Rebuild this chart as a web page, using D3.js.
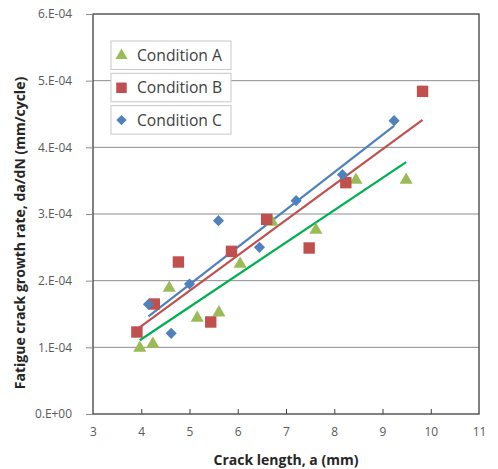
<!DOCTYPE html>
<html>
<head>
<meta charset="utf-8">
<script src="https://cdn.jsdelivr.net/npm/d3@7"></script>
<style>
  body { margin: 0; background: #fff; }
  text { font-family: "Open Sans", Lato, sans-serif; }
</style>
</head>
<body>
<div id="container"></div>
<script>
/* CONSTANTS AND GLOBALS */
const width = 498,
      height = 469,
      margin = {top: 14, bottom: 55, left: 93, right: 19};

/* DATA */
const seriesNames = ["Condition A", "Condition B", "Condition C"]

const lengthA = [3.97, 4.24, 4.58, 5.16, 5.61, 6.05, 6.71, 7.62, 8.45, 9.49]
const rateA   = [0.99e-4, 1.05e-4, 1.89e-4, 1.44e-4, 1.52e-4, 2.25e-4, 2.88e-4, 2.76e-4, 3.51e-4, 3.51e-4]

const lengthB = [3.91, 4.27, 4.77, 5.44, 5.87, 6.60, 7.48, 8.24, 9.83]
const rateB   = [1.23e-4, 1.65e-4, 2.28e-4, 1.38e-4, 2.44e-4, 2.92e-4, 2.49e-4, 3.47e-4, 4.84e-4]

const lengthC = [4.15, 4.62, 5.00, 5.60, 6.45, 7.21, 8.17, 9.24]
const rateC   = [1.645e-4, 1.21e-4, 1.95e-4, 2.90e-4, 2.50e-4, 3.20e-4, 3.59e-4, 4.40e-4]

const xTicks = [3, 4, 5, 6, 7, 8, 9, 10, 11]
const yTicks = [0, 1e-4, 2e-4, 3e-4, 4e-4, 5e-4, 6e-4]

// diamond = square turned 45 degrees
const series = [
  {name: seriesNames[0], x: lengthA, y: rateA, symbol: d3.symbolTriangle, size: 75, rot: 0, fill: "#9bbb59", line: "#00b050"},
  {name: seriesNames[1], x: lengthB, y: rateB, symbol: d3.symbolSquare, size: 130, rot: 0, fill: "#c0504d", line: "#c0504d"},
  {name: seriesNames[2], x: lengthC, y: rateC, symbol: d3.symbolSquare, size: 62, rot: 45, fill: "#4f81bd", line: "#4f81bd"}
]

// least squares line, like the spreadsheet trendline
function trend(xs, ys) {
  const mx = d3.mean(xs), my = d3.mean(ys)
  const sxy = d3.sum(xs, (x, i) => (x - mx) * (ys[i] - my))
  const sxx = d3.sum(xs, x => (x - mx) * (x - mx))
  const b = sxy / sxx, a = my - b * mx
  const x0 = d3.min(xs), x1 = d3.max(xs)
  return [[x0, a + b * x0], [x1, a + b * x1]]
}

function sciFormat(d) {
  if (d === 0) return "0.E+00"
  const e = Math.floor(Math.log10(d) + 1e-9)
  const m = Math.round(d / Math.pow(10, e))
  const sign = e < 0 ? "-" : "+"
  return `${m}.E${sign}${String(Math.abs(e)).padStart(2, "0")}`
}

// pick a font size so that one text node gets the wanted width
function fitSize(node, target) {
  const fs = parseFloat(node.style.fontSize)
  return fs * target / node.getComputedTextLength()
}

/* SCALES */
const xScale = d3.scaleLinear()
                 .domain([3, 11])
                 .range([margin.left, width - margin.right])

const yScale = d3.scaleLinear()
                 .domain([0, 6e-4])
                 .range([height - margin.bottom, margin.top])

/* HTML ELEMENTS */
const svg = d3.select("#container")
              .append("svg")
              .attr("width", width)
              .attr("height", height)

// gridlines
svg.append("g")
   .selectAll("line")
   .data(yTicks.slice(1, -1))
   .join("line")
   .attr("x1", margin.left)
   .attr("x2", width - margin.right)
   .attr("y1", d => yScale(d))
   .attr("y2", d => yScale(d))
   .attr("stroke", "#8c8c8c")
   .attr("stroke-width", 1)

// plot frame
svg.append("rect")
   .attr("x", margin.left)
   .attr("y", margin.top)
   .attr("width", width - margin.left - margin.right)
   .attr("height", height - margin.top - margin.bottom)
   .attr("fill", "none")
   .attr("stroke", "#3f3f3f")
   .attr("stroke-width", 1.3)

const xAxis = d3.axisBottom(xScale)
                .tickValues(xTicks)
                .tickSizeInner(-5)
                .tickSizeOuter(0)
                .tickPadding(14)
                .tickFormat(d3.format("d"))

const yAxis = d3.axisLeft(yScale)
                .tickValues(yTicks)
                .tickSizeInner(7)
                .tickSizeOuter(0)
                .tickPadding(14)
                .tickFormat(sciFormat)

const gx = svg.append("g")
   .attr("transform", `translate(0, ${height - margin.bottom})`)
   .call(xAxis)

const gy = svg.append("g")
   .attr("transform", `translate(${margin.left}, 0)`)
   .call(yAxis)

for (const g of [gx, gy]) {
  g.select(".domain").remove()
  g.selectAll(".tick line").attr("stroke", "#3f3f3f")
  g.selectAll(".tick text")
   .attr("fill", "#595959")
   .style("font-size", "12px")
   .style("font-family", "'Open Sans', sans-serif")
}
gx.selectAll(".tick").filter(d => d === 3 || d === 11).select("line").remove()
gy.selectAll(".tick line").attr("stroke", "#8c8c8c")

// tick label size taken from the "0.E+00" label width
const tickFs = fitSize(gy.selectAll(".tick text").node(), 37)
gx.selectAll(".tick text").style("font-size", tickFs + "px")
gy.selectAll(".tick text").style("font-size", tickFs + "px")

// trendlines
const line = d3.line()
               .x(d => xScale(d[0]))
               .y(d => yScale(d[1]))

svg.append("g")
   .selectAll("path")
   .data(series)
   .join("path")
   .attr("d", s => line(trend(s.x, s.y)))
   .attr("fill", "none")
   .attr("stroke", s => s.line)
   .attr("stroke-width", 2.2)

// markers
series.forEach(s => {
  svg.append("g")
     .selectAll("path")
     .data(s.x.map((x, i) => [x, s.y[i]]))
     .join("path")
     .attr("transform", d => `translate(${xScale(d[0])}, ${yScale(d[1])}) rotate(${s.rot})`)
     .attr("d", d3.symbol().type(s.symbol).size(s.size))
     .attr("fill", s.fill)
})

// legend
const legend = svg.append("g")
                  .selectAll("g")
                  .data(series)
                  .join("g")
                  .attr("transform", (d, i) => `translate(111, ${41 + i * 32.3})`)

legend.append("rect")
      .attr("width", 120)
      .attr("height", 28.5)
      .attr("fill", "#fff")
      .attr("stroke", "#c8c8c8")

legend.append("path")
      .attr("transform", s => `translate(10.5, 14.5) rotate(${s.rot})`)
      .attr("d", s => d3.symbol().type(s.symbol).size(s.size * 0.85)())
      .attr("fill", s => s.fill)

const legendText = legend.append("text")
      .attr("x", 26)
      .attr("y", 14.5)
      .attr("dy", "0.35em")
      .attr("fill", "#404040")
      .style("font-size", "14px")
      .text(s => s.name)

legendText.style("font-size", fitSize(legendText.node(), 85) + "px")

// axis titles
svg.append("text")
   .attr("x", (margin.left + width - margin.right) / 2)
   .attr("y", 460)
   .attr("dy", "0.35em")
   .attr("text-anchor", "middle")
   .attr("fill", "#262626")
   .style("font-size", "14px")
   .style("font-weight", "bold")
   .text("Crack length, a (mm)")

svg.append("text")
   .attr("transform", "translate(20, 233) rotate(-90)")
   .attr("dy", "0.35em")
   .attr("text-anchor", "middle")
   .attr("fill", "#262626")
   .style("font-size", "14px")
   .style("font-weight", "bold")
   .text("Fatigue crack growth rate, da/dN (mm/cycle)")
</script>
</body>
</html>
